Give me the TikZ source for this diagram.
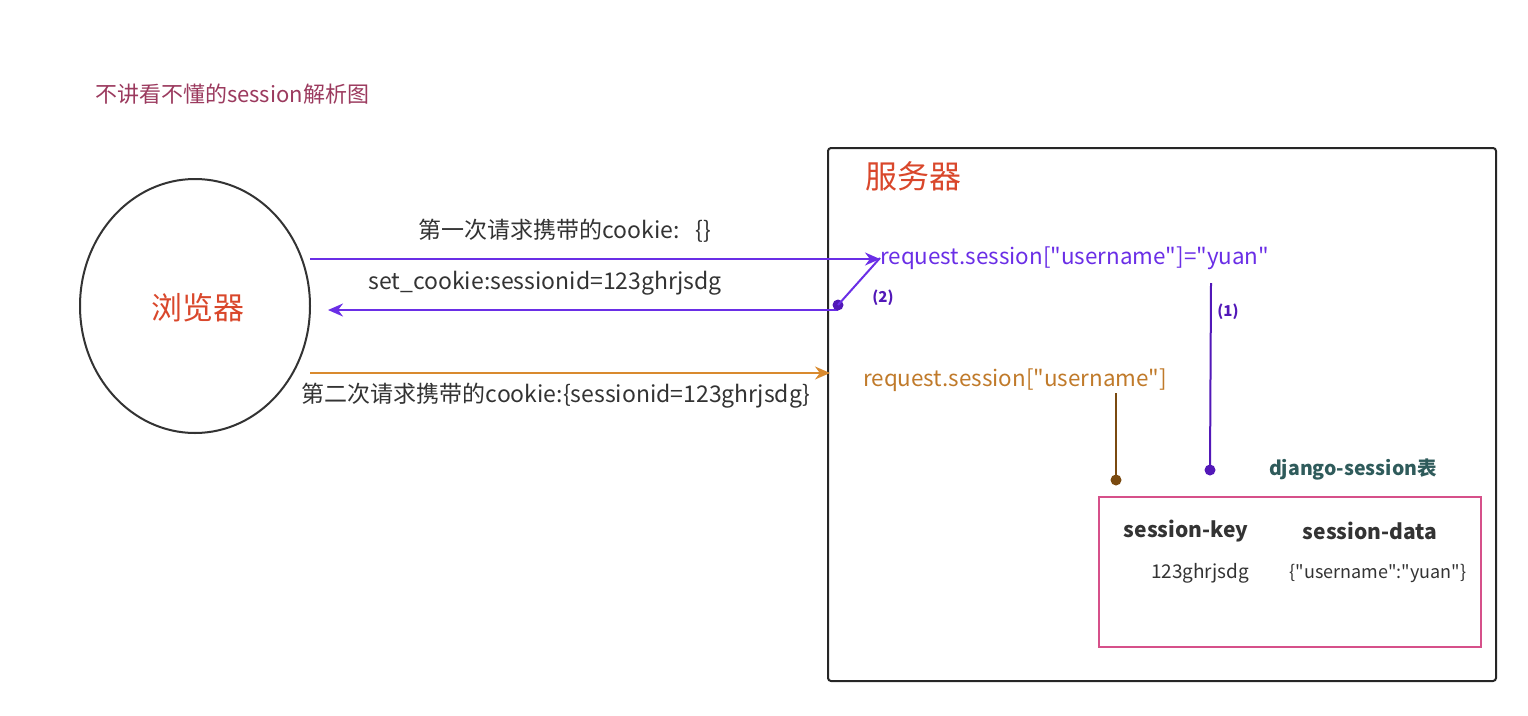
\documentclass[tikz,border=0pt]{standalone}
\usepackage{fontspec}
\setmainfont{Noto Sans CJK SC}[Ligatures=TeXOff]
\usetikzlibrary{arrows.meta}
\definecolor{purp}{HTML}{6A2EE6}
\definecolor{purpdot}{HTML}{5218B8}
\definecolor{orng}{HTML}{D98A2E}
\definecolor{orngtxt}{HTML}{C07A2A}
\definecolor{brwn}{HTML}{7A4A10}
\definecolor{redt}{HTML}{D9472B}
\definecolor{titlec}{HTML}{9B3A5E}
\definecolor{teal}{HTML}{2F5B5B}
\definecolor{pink}{HTML}{D6508A}
\definecolor{gtext}{HTML}{333333}
\tikzset{
  lbl/.style={inner sep=0pt, text=gtext, font=\fontsize{23}{26}\selectfont},
  purptxt/.style={inner sep=0pt, text=purp, font=\fontsize{22.4}{26}\selectfont},
  bnum/.style={inner sep=0pt, text=purpdot, font=\bfseries\fontsize{15}{17}\selectfont},
  conn/.style={line width=2pt},
  tip/.style={-{Stealth[length=15pt,width=13pt]}},
  dot/.style={circle, fill, inner sep=0pt, minimum size=11pt},
}
\begin{document}
\begin{tikzpicture}[x=1pt,y=-1pt]
\useasboundingbox (0,0) rectangle (1528,715);
% title
\node[anchor=west, inner sep=0pt, text=titlec, font=\fontsize{22}{25}\selectfont] (title) at (95,94) {不讲看不懂的session解析图};
% browser
\draw[line width=2pt, draw=black!80] (195,306) ellipse [x radius=115, y radius=127];
\node[inner sep=0pt, text=redt, font=\fontsize{31}{35}\selectfont] (browser) at (198,308) {浏览器};
% server
\draw[line width=2pt, draw=black!85, rounded corners=3pt] (828,148) rectangle (1496,681);
\node[inner sep=0pt, text=redt, font=\fontsize{32}{36}\selectfont] (server) at (913,176) {服务器};
% coordinates
\coordinate (b1) at (310,259);
\coordinate (b2) at (328,310);
\coordinate (b3) at (310,373);
\coordinate (s2) at (838,305);
\coordinate (s3) at (830,373);
% request texts
\node[purptxt, anchor=west] (req1) at (880,258) {request.session["username"]="yuan"};
\node[inner sep=0pt, anchor=west, text=orngtxt, font=\fontsize{22.4}{26}\selectfont] (req2) at (863,380) {request.session["username"]};
% arrows
\draw[conn, purp, tip] (b1) -- (req1.west |- b1);
\node[lbl] (l1) at (565,231) {第一次请求携带的cookie:\hspace{0.7em}\{\}};
\draw[conn, purp, tip] (s2 |- b2) -- (b2);
\node[lbl] (l2) at (545,283) {set\_cookie:sessionid=123ghrjsdg};
\draw[conn, orng, tip] (b3) -- (s3);
\node[lbl] (l3) at (556,396) {第二次请求携带的cookie:\{sessionid=123ghrjsdg\}};
% (2)
\node[dot, purpdot] (d2) at (s2) {};
\draw[line width=2pt, purp] (d2.center) -- (req1.west);
\node[bnum] (n2) at (883,298) {(2)};
% (1)
\coordinate (v1) at (1211,283);
\node[dot, purpdot] (d1) at (1210,470) {};
\draw[line width=2pt, purpdot] (v1) -- (d1.center);
\node[bnum] (n1) at (1228,312) {(1)};
% brown
\coordinate (v2) at (1116,393);
\node[dot, brwn] (d3) at (1116,480) {};
\draw[line width=2pt, brwn] (v2) -- (d3.center);
% table
\node[inner sep=0pt, text=teal, font=\bfseries\fontsize{19.5}{22}\selectfont] (tname) at (1353,469) {django-session表};
\draw[line width=2pt, pink] (1099,497) rectangle (1481,647);
\node[inner sep=0pt, text=gtext, font=\bfseries\fontsize{21}{24}\selectfont] (hk) at (1186,531) {session-key};
\node[inner sep=0pt, text=gtext, font=\bfseries\fontsize{21}{24}\selectfont] (hd) at (1370,531) {session-data};
\node[inner sep=0pt, text=gtext, font=\fontsize{19}{22}\selectfont] (vk) at (1200,573) {123ghrjsdg};
\node[inner sep=0pt, text=gtext, font=\fontsize{18}{21}\selectfont] (vd) at (1378,573) {\{"username":"yuan"\}};
\end{tikzpicture}
\end{document}
